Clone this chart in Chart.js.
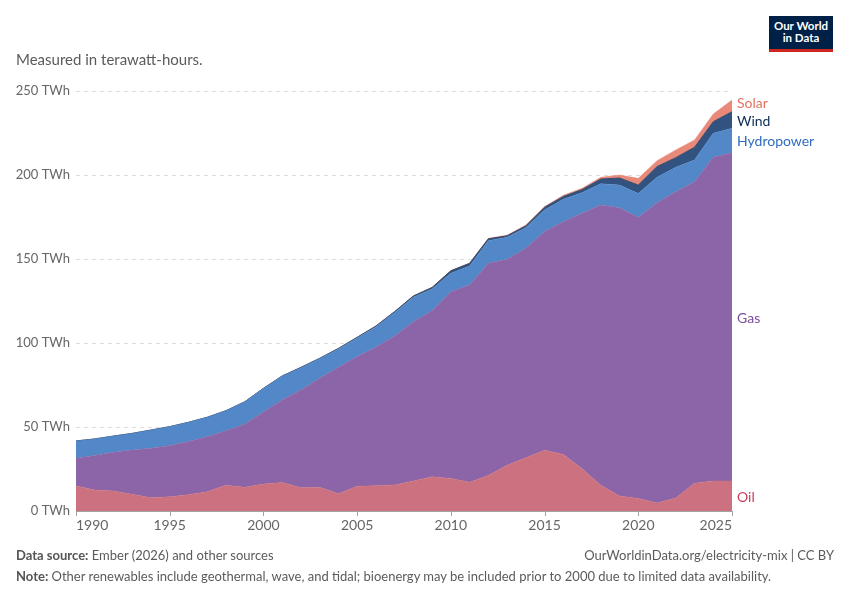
<!DOCTYPE html>
<html>
<head>
<meta charset="utf-8">
<script src="https://cdn.jsdelivr.net/npm/chart.js@4"></script>
<style>
  body { margin: 0; background: #fff; font-family: Lato, "Noto Sans", sans-serif; }
  #wrap { position: relative; width: 850px; height: 600px; }
  canvas { position: absolute; left: 0; top: 0; }
  .sub { position: absolute; left: 16px; top: 50px; font-size: 15px; color: #5b5b5b; }
  .logo { position: absolute; left: 769px; top: 16px; width: 64px; background: #002147;
          border-bottom: 3px solid #ce261e; color: #fff; font-size: 11.5px; font-weight: bold;
          line-height: 12px; text-align: center; padding-top: 4px; box-sizing: content-box; height: 29px; }
  .foot { position: absolute; font-size: 13px; color: #5b5b5b; }
  .foot b { color: #555; }
</style>
</head>
<body>
<div id="wrap">
  <canvas id="myChart" width="850" height="600"></canvas>
  <div class="sub">Measured in terawatt-hours.</div>
  <div class="logo">Our World<br>in Data</div>
  <div class="foot" style="left:16px; top:547px;"><b>Data source:</b> Ember (2026) and other sources</div>
  <div class="foot" style="right:16px; top:547px;">OurWorldinData.org/electricity-mix | CC BY</div>
  <div class="foot" style="left:16px; top:568px;"><b>Note:</b> Other renewables include geothermal, wave, and tidal; bioenergy may be included prior to 2000 due to limited data availability.</div>
</div>
<script>
'use strict';

// years on the x axis
let years = [];
for (let y = 1990; y <= 2025; y++) years.push(y);

// TWh per source
let oil = [14.9, 12.5, 11.9, 9.9, 7.9, 8.5, 9.7, 11.5, 15.3, 14.1,
  16.0, 16.9, 13.9, 14.1, 10.3, 14.7, 15.1, 15.5, 17.9, 20.4,
  19.4, 17.1, 21.2, 27.2, 31.7, 36.1, 33.7, 25.2, 15.3, 8.9,
  7.5, 4.8, 7.7, 16.5, 17.9, 17.9];
let gas = [16.5, 20.6, 23.0, 26.4, 29.4, 30.4, 31.6, 32.7, 32.5, 37.5,
  43.0, 49.2, 58.1, 64.9, 75.2, 77.2, 82.3, 88.7, 94.8, 98.8,
  111.1, 117.4, 126.2, 122.6, 124.7, 130.2, 138.5, 152.0, 166.8, 171.6,
  167.3, 178.7, 182.3, 179.5, 192.6, 195.4];
let hydro = [10.3, 9.8, 9.7, 9.9, 10.9, 11.3, 11.5, 11.6, 11.9, 13.4,
  13.9, 14.2, 13.3, 11.7, 11.0, 11.1, 12.2, 13.9, 14.5, 12.9,
  11.0, 11.3, 13.5, 13.1, 12.2, 12.9, 13.3, 12.3, 12.7, 13.5,
  14.2, 15.1, 14.6, 12.9, 14.3, 14.5];
let wind = [0, 0, 0, 0, 0, 0, 0, 0, 0, 0,
  0.1, 0.1, 0.2, 0.2, 0.3, 0.4, 0.5, 0.6, 0.8, 1.0,
  1.5, 1.6, 1.1, 0.9, 1.1, 1.6, 1.7, 1.8, 2.8, 4.2,
  5.0, 6.4, 5.7, 7.6, 6.9, 9.9];
let solar = [0, 0, 0, 0, 0, 0, 0, 0, 0, 0,
  0, 0, 0, 0, 0, 0, 0, 0, 0, 0,
  0.1, 0.2, 0.3, 0.4, 0.5, 0.4, 0.7, 0.8, 1.0, 1.8,
  4.0, 3.5, 4.6, 4.3, 4.6, 6.9];

let yTicks = [0, 50, 100, 150, 200, 250];
let xTickYears = [1990, 1995, 2000, 2005, 2010, 2015, 2020, 2025];

let series = [
  {name: 'Oil', data: oil, fill: '#cc717f', line: '#cc717f', text: '#c9405a'},
  {name: 'Gas', data: gas, fill: '#8b65a7', line: '#8b65a7', text: '#7b4e9e'},
  {name: 'Hydropower', data: hydro, fill: '#5288c8', line: '#5288c8', text: '#2f6cc0'},
  {name: 'Wind', data: wind, fill: '#325280', line: '#3a4d6a', text: '#0d2c55'},
  {name: 'Solar', data: solar, fill: '#e8897a', line: '#e8897a', text: '#e2725f'}
];

const FONT = 'Lato, "Noto Sans", sans-serif';

// labels to the right of the last year, placed at the middle of each band
const endLabels = {
  id: 'endLabels',
  afterDraw(chart) {
    let ctx = chart.ctx;
    let yScale = chart.scales.y;
    let last = years.length - 1;
    let base = 0;
    let items = [];
    for (let i = 0; i < series.length; i++) {
      let v = series[i].data[last];
      items.push({s: series[i], y: yScale.getPixelForValue(base + v / 2)});
      base += v;
    }
    // push the upper labels up so they do not overlap
    items.sort((a, b) => a.y - b.y);
    for (let i = items.length - 2; i >= 0; i--) {
      if (items[i + 1].y - items[i].y < 18) items[i].y = items[i + 1].y - 18;
    }
    ctx.save();
    ctx.font = '14px ' + FONT;
    ctx.textBaseline = 'middle';
    ctx.textAlign = 'left';
    for (let it of items) {
      ctx.fillStyle = it.s.text;
      ctx.fillText(it.s.name, chart.chartArea.right + 5, it.y + 1.5);
    }
    ctx.restore();
  }
};

// x axis line, ticks and labels (first label left-aligned, last right-aligned)
const xAxisDraw = {
  id: 'xAxisDraw',
  afterDraw(chart) {
    let ctx = chart.ctx;
    let xScale = chart.scales.x;
    let area = chart.chartArea;
    ctx.save();
    ctx.strokeStyle = '#a3a3a3';
    ctx.lineWidth = 1;
    ctx.beginPath();
    ctx.moveTo(area.left, area.bottom + 0.5);
    ctx.lineTo(area.right, area.bottom + 0.5);
    ctx.stroke();
    ctx.font = '14px ' + FONT;
    ctx.fillStyle = '#666';
    ctx.textBaseline = 'top';
    for (let i = 0; i < xTickYears.length; i++) {
      let px = xScale.getPixelForValue(years.indexOf(xTickYears[i]));
      ctx.beginPath();
      ctx.moveTo(Math.round(px) + 0.5, area.bottom);
      ctx.lineTo(Math.round(px) + 0.5, area.bottom + 5);
      ctx.stroke();
      if (i === 0) ctx.textAlign = 'left';
      else if (i === xTickYears.length - 1) ctx.textAlign = 'right';
      else ctx.textAlign = 'center';
      ctx.fillText(String(xTickYears[i]), px, area.bottom + 7);
    }
    ctx.restore();
  }
};

const ctx = document.getElementById('myChart');

new Chart(ctx, {
  type: 'line',
  data: {
    labels: years,
    datasets: series.map((s, i) => ({
      label: s.name,
      data: s.data,
      backgroundColor: s.fill,
      borderColor: s.line,
      borderWidth: s.name === 'Wind' ? 1 : 0.5,
      pointRadius: 0,
      tension: 0,
      fill: i === 0 ? 'origin' : '-1'
    }))
  },
  options: {
    responsive: false,
    animation: false,
    layout: {padding: {left: 0, right: 118, top: 91, bottom: 0}},
    plugins: {legend: {display: false}, tooltip: {enabled: false}},
    scales: {
      x: {
        type: 'category',
        offset: false,
        grid: {display: false},
        border: {display: false},
        ticks: {display: false},
        afterFit(scale) { scale.height = 89; }
      },
      y: {
        stacked: true,
        min: 0,
        max: 250,
        afterBuildTicks(scale) { scale.ticks = yTicks.map(v => ({value: v})); },
        afterFit(scale) { scale.width = 76; },
        border: {display: false, dash: [4, 4]},
        grid: {color: '#dddddd', drawTicks: false, lineWidth: 1},
        ticks: {
          padding: 6,
          color: '#666',
          font: {family: FONT, size: 13},
          callback: v => v + ' TWh'
        }
      }
    }
  },
  plugins: [endLabels, xAxisDraw]
});
</script>
</body>
</html>
